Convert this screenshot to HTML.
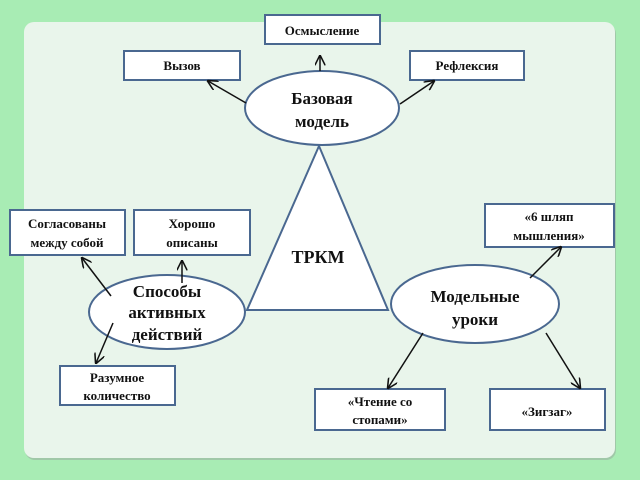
<!DOCTYPE html>
<html><head><meta charset="utf-8"><style>
html,body{margin:0;padding:0;background:#a8ecb4;}
svg{display:block;}
text{font-family:"Liberation Serif","Noto Serif CJK SC",serif;font-weight:bold;fill:#111;text-anchor:middle;}
</style></head><body>
<svg width="640" height="480" viewBox="0 0 640 480" xmlns="http://www.w3.org/2000/svg">
<defs><marker id="a" viewBox="0 0 10 10" refX="9" refY="5" markerWidth="7" markerHeight="7" orient="auto"><path d="M0,0 L10,5 L0,10" fill="none" stroke="#111" stroke-width="1.5"/></marker></defs>
<rect x="0" y="0" width="640" height="480" fill="#a8ecb4"/>
<rect x="25" y="24" width="591" height="436" rx="10" fill="#a0c8a8"/>
<rect x="24" y="22" width="591" height="436" rx="10" fill="#e9f5eb"/>
<g stroke="#4a6890" stroke-width="2" fill="#fff">
<rect x="265" y="15" width="115" height="29"/>
<rect x="124" y="51" width="116" height="29"/>
<rect x="410" y="51" width="114" height="29"/>
<rect x="10" y="210" width="115" height="45"/>
<rect x="134" y="210" width="116" height="45"/>
<rect x="485" y="204" width="129" height="43"/>
<rect x="60" y="366" width="115" height="39"/>
<rect x="315" y="389" width="130" height="41"/>
<rect x="490" y="389" width="115" height="41"/>
<polygon points="319,146 247,310 388,310"/>
<ellipse cx="322" cy="108" rx="77" ry="37"/>
<ellipse cx="167" cy="312" rx="78" ry="37"/>
<ellipse cx="475" cy="304" rx="84" ry="39"/>
</g>
<g stroke="#111" stroke-width="1.5" fill="none" marker-end="url(#a)">
<line x1="320" y1="71" x2="320" y2="56"/>
<line x1="246" y1="103" x2="208" y2="81"/>
<line x1="400" y1="104" x2="434" y2="81"/>
<line x1="111" y1="296" x2="82" y2="258"/>
<line x1="182" y1="283" x2="182" y2="261"/>
<line x1="113" y1="323" x2="96" y2="363"/>
<line x1="530" y1="278" x2="561" y2="247"/>
<line x1="423" y1="333" x2="388" y2="388"/>
<line x1="546" y1="333" x2="580" y2="388"/>
</g>
<g font-size="13">
<text x="322" y="35">Осмысление</text>
<text x="182" y="70">Вызов</text>
<text x="467" y="70">Рефлексия</text>
<text x="67" y="228">Согласованы</text>
<text x="67" y="247">между собой</text>
<text x="192" y="228">Хорошо</text>
<text x="192" y="247">описаны</text>
<text x="549" y="221">«6 шляп</text>
<text x="549" y="240">мышления»</text>
<text x="117" y="382">Разумное</text>
<text x="117" y="400">количество</text>
<text x="380" y="406">«Чтение со</text>
<text x="380" y="424">стопами»</text>
<text x="547" y="416">«Зигзаг»</text>
</g>
<g font-size="17">
<text x="322" y="104">Базовая</text>
<text x="322" y="127">модель</text>
<text x="318" y="263" font-size="18">ТРКМ</text>
<text x="167" y="297">Способы</text>
<text x="167" y="318">активных</text>
<text x="167" y="340">действий</text>
<text x="475" y="302">Модельные</text>
<text x="475" y="325">уроки</text>
</g>
</svg>
</body></html>
